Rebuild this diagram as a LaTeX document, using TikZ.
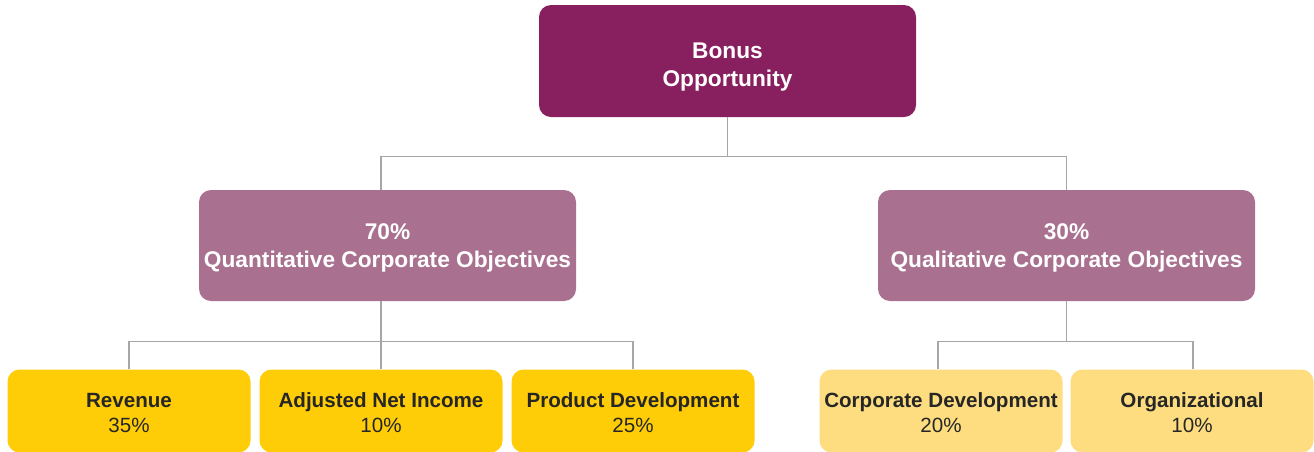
\documentclass[tikz,border=0pt]{standalone}
\usepackage{fontspec}
\setmainfont{Liberation Sans}
\definecolor{rootfill}{HTML}{88205F}
\definecolor{groupfill}{HTML}{A9718F}
\definecolor{itemdark}{HTML}{FFCC08}
\definecolor{itemlight}{HTML}{FEDD80}
\definecolor{linkgray}{HTML}{A6A6A6}
\definecolor{itemtext}{HTML}{262626}
\begin{document}
\begin{tikzpicture}[x=1pt,y=-1pt,
  box/.style={rounded corners=12pt, inner sep=0pt},
  headbox/.style={box, minimum width=377pt, minimum height=111pt},
  itembox/.style={box, minimum width=243pt, minimum height=83pt},
  headtext/.style={align=center, text=white, font=\bfseries\fontsize{22.7}{28}\selectfont},
  itemtext/.style={align=center, text=itemtext, font=\fontsize{20.6}{25}\selectfont},
  link/.style={draw=linkgray, line width=1.2pt}]
\useasboundingbox (0,0) rectangle (1314,451);

% top level
\node[headbox, fill=rootfill, minimum height=112pt,
  label={[headtext, yshift=-6pt]center:Bonus\\Opportunity}] (root) at (727.5,61) {};

% objective groups
\node[headbox, fill=groupfill,
  label={[headtext, yshift=-2pt]center:70\%\\Quantitative Corporate Objectives}] (quant) at (387.5,245.5) {};
\node[headbox, fill=groupfill,
  label={[headtext, yshift=-2pt]center:30\%\\Qualitative Corporate Objectives}] (qual) at (1066.5,245.5) {};

% individual objectives
\node[itembox, fill=itemdark,
  label={[itemtext, yshift=-2pt]center:\textbf{Revenue}\\35\%}] (rev) at (129,411) {};
\node[itembox, fill=itemdark,
  label={[itemtext, yshift=-2pt]center:\textbf{Adjusted Net Income}\\10\%}] (ani) at (381,411) {};
\node[itembox, fill=itemdark,
  label={[itemtext, yshift=-2pt]center:\textbf{Product Development}\\25\%}] (pd) at (633,411) {};
\node[itembox, fill=itemlight,
  label={[itemtext, yshift=-2pt]center:\textbf{Corporate Development}\\20\%}] (cd) at (941,411) {};
\node[itembox, fill=itemlight,
  label={[itemtext, yshift=-2pt]center:\textbf{Organizational}\\10\%}] (org) at (1192,411) {};

% connectors
\draw[link] (root.south) -- ++(0,39) coordinate (busA);
\draw[link] ([xshift=-6.5pt]quant.north) |- (busA) -| (qual.north);

\draw[link] ([xshift=-6.5pt]quant.south) -- ++(0,40) coordinate (busB);
\draw[link] (rev.north) |- (busB) -| (pd.north);
\draw[link] (busB) -- (ani.north);

\draw[link] (qual.south) -- ++(0,40) coordinate (busC);
\draw[link] ([xshift=-3pt]cd.north) |- (busC) -| ([xshift=1pt]org.north);
\end{tikzpicture}
\end{document}
